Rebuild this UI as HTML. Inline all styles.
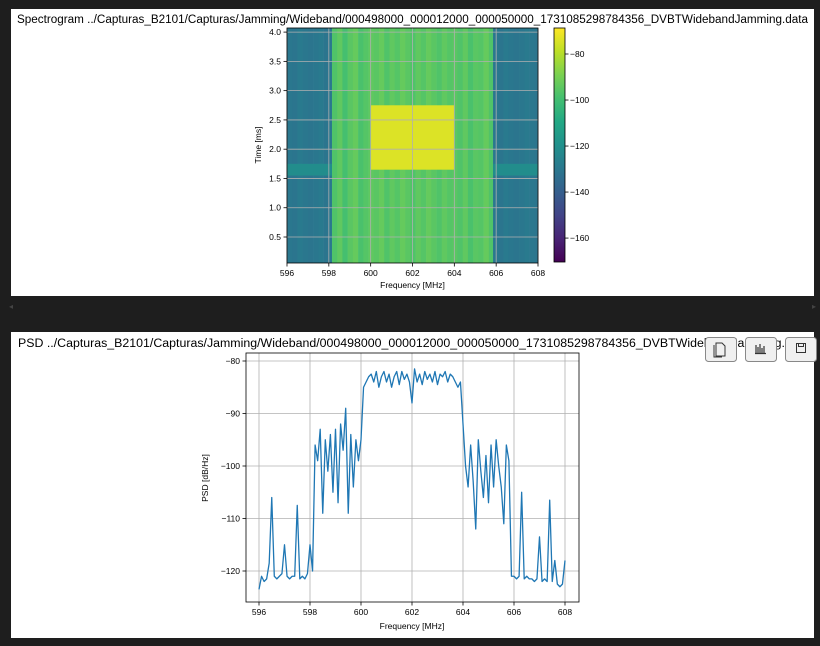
<!DOCTYPE html>
<html><head><meta charset="utf-8"><style>
html,body{margin:0;padding:0;background:#1e1e1e;width:820px;height:646px;overflow:hidden;font-family:"Liberation Sans","DejaVu Sans",sans-serif}
svg{position:absolute;left:0;top:0}
</style></head><body>
<svg id="root" width="820" height="646">
<rect x="11" y="9" width="803" height="287" fill="#fff"/>
<rect x="11" y="332" width="803" height="306" fill="#fff"/>
<text x="9" y="309" font-size="8" fill="#444">◂</text>
<text x="812" y="309" font-size="8" fill="#444">▸</text>
<text x="17" y="23" font-size="11.5" textLength="791" lengthAdjust="spacingAndGlyphs" fill="#000">Spectrogram ../Capturas_B2101/Capturas/Jamming/Wideband/000498000_000012000_000050000_1731085298784356_DVBTWidebandJamming.data</text>
<text x="18" y="347" font-size="11.5" textLength="791" lengthAdjust="spacingAndGlyphs" fill="#000">PSD ../Capturas_B2101/Capturas/Jamming/Wideband/000498000_000012000_000050000_1731085298784356_DVBTWidebandJamming.data</text>
<g id="spec"></g>
<g id="cbar"></g>
<g id="psd"></g>
<g>
<rect x="705.5" y="337.5" width="31" height="24" rx="3" fill="#f0f0f0" stroke="#888"/>
<path d="M716 343h6l3 3v10h-9z M714 345v12h8" fill="none" stroke="#333" stroke-width="1"/>
<rect x="745.5" y="337.5" width="31" height="24" rx="3" fill="#f0f0f0" stroke="#888"/>
<path d="M756 345v8M758 347v6M760 344v9M762 348v5M764 346v7M755 353.5h11" stroke="#333" stroke-width="1.2"/>
<rect x="785.5" y="337.5" width="31" height="24" rx="3" fill="#f0f0f0" stroke="#888"/>
<path d="M796.5 343.5h9v9h-9z M798.5 343.5v3h5v-3" fill="none" stroke="#333"/>
</g>
</svg>
<script>
// ---------- data ----------
const specColFreqStart = [596.0,596.25,596.5,596.75,597.0,597.25,597.5,597.75,598.0,598.15,598.4,598.65,598.9,599.15,599.4,599.65,599.9,600.15,600.4,600.65,600.9,601.15,601.4,601.65,601.9,602.15,602.4,602.65,602.9,603.15,603.4,603.65,603.9,604.15,604.4,604.65,604.9,605.15,605.4,605.65,605.85,606.1,606.35,606.6,606.85,607.1,607.35,607.6,607.85];
const specColLevel = [-130,-131,-129,-130,-131,-130,-129,-131,-130,-97,-94,-99,-95,-93,-98,-96,-94,-95,-93,-97,-94,-96,-93,-95,-97,-94,-96,-93,-95,-97,-94,-96,-95,-97,-94,-98,-95,-96,-93,-97,-130,-131,-129,-130,-131,-130,-129,-130,-131];
const specBlocks = [
  {f0:600.0,f1:604.0,t0:1.65,t1:2.75,db:-74},
  {f0:596.0,f1:598.15,t0:1.55,t1:1.75,db:-121},
  {f0:605.85,f1:608.0,t0:1.55,t1:1.75,db:-121}
];
const specXTicks = [596,598,600,602,604,606,608];
const specYTicks = [0.5,1.0,1.5,2.0,2.5,3.0,3.5,4.0];
const cbarTicks = [-80,-100,-120,-140,-160];

const psdValues = [-123.5,-121,-122,-121.5,-118.5,-106,-121,-121.5,-121,-120.5,-115,-121,-121.5,-121,-121,-107.5,-121.5,-121,-121.5,-120.5,-115,-120,-96,-99,-93,-109,-95,-101,-94,-105,-93,-107,-92,-97,-89,-109,-94,-104,-95,-99,-95,-85,-84,-83,-82.5,-84,-82,-85,-83,-82,-84,-82.5,-85,-83,-82,-84.5,-82,-83.5,-82.5,-84,-88,-81.5,-84,-82.5,-84.5,-82,-83.5,-82.5,-84,-82,-84.5,-82.5,-83,-82,-84,-82.5,-83,-84,-85,-84,-92,-100,-104,-96,-103,-112,-95,-101,-106,-98,-107,-96,-104,-95,-100,-104,-111,-96,-99,-121,-121,-121.5,-121,-105,-121.5,-121,-121.5,-121.5,-122,-121.5,-113.5,-122,-121.5,-122,-106.5,-122,-118,-122.5,-123,-122.5,-118];
const psdFreqStart = 596, psdFreqStep = 0.1;
const psdXTicks = [596,598,600,602,604,606,608];
const psdYTicks = [-80,-90,-100,-110,-120];

// ---------- helpers ----------
const NS='http://www.w3.org/2000/svg';
function mk(parent,tag,attrs){const e=document.createElementNS(NS,tag);for(const k in attrs)e.setAttribute(k,attrs[k]);parent.appendChild(e);return e;}
const vir=['#440154','#482475','#414487','#355f8d','#2a788e','#21918c','#22a884','#44bf70','#7ad151','#bddf26','#fde725'];
function hex(c){return [1,3,5].map(i=>parseInt(c.substr(i,2),16));}
function viridis(t){t=Math.max(0,Math.min(1,t));const p=t*10,i=Math.min(9,Math.floor(p)),f=p-i;const a=hex(vir[i]),b=hex(vir[i+1]);return 'rgb('+a.map((v,k)=>Math.round(v+(b[k]-v)*f)).join(',')+')';}
const VMIN=-170.4,VMAX=-68.7;
const cmap=db=>viridis((db-VMIN)/(VMAX-VMIN));

// ---------- spectrogram ----------
const S={x0:287,y0:28,w:251,h:235,fmin:596,fmax:608,tmin:0.056,tmax:4.07};
const sx=f=>S.x0+(f-S.fmin)/(S.fmax-S.fmin)*S.w;
const sy=t=>S.y0+S.h-(t-S.tmin)/(S.tmax-S.tmin)*S.h;
const spec=document.getElementById('spec');
specColLevel.forEach((db,i)=>{
  const f0=specColFreqStart[i], f1=i+1<specColFreqStart.length?specColFreqStart[i+1]:S.fmax;
  const r=mk(spec,'rect',{x:sx(f0),y:S.y0,width:Math.max(0,sx(f1)-sx(f0))+0.3,height:S.h,fill:cmap(db)});
  
  
});
specBlocks.forEach(b=>{
  const r=mk(spec,'rect',{x:sx(b.f0),y:sy(b.t1),width:sx(b.f1)-sx(b.f0),height:sy(b.t0)-sy(b.t1),fill:cmap(b.db)});
  
  
});
specXTicks.forEach(v=>{
  mk(spec,'line',{x1:sx(v),x2:sx(v),y1:S.y0,y2:S.y0+S.h,stroke:'#b0b0b0','stroke-width':0.8});
  mk(spec,'line',{x1:sx(v),x2:sx(v),y1:S.y0+S.h,y2:S.y0+S.h+3.5,stroke:'#000','stroke-width':0.8});
  const t=mk(spec,'text',{x:sx(v),y:S.y0+S.h+13,'font-size':8.5,'text-anchor':'middle'});t.textContent=v;
  
  
});
specYTicks.forEach(v=>{
  mk(spec,'line',{x1:S.x0,x2:S.x0+S.w,y1:sy(v),y2:sy(v),stroke:'#b0b0b0','stroke-width':0.8});
  mk(spec,'line',{x1:S.x0-3.5,x2:S.x0,y1:sy(v),y2:sy(v),stroke:'#000','stroke-width':0.8});
  const t=mk(spec,'text',{x:S.x0-6,y:sy(v)+3,'font-size':8.5,'text-anchor':'end'});t.textContent=v.toFixed(1);
  
  
});
mk(spec,'rect',{x:S.x0,y:S.y0,width:S.w,height:S.h,fill:'none',stroke:'#000','stroke-width':0.8});
let tt=mk(spec,'text',{x:S.x0+S.w/2,y:288,'font-size':8.5,'text-anchor':'middle'});tt.textContent='Frequency [MHz]';

tt=mk(spec,'text',{x:0,y:0,'font-size':8.5,'text-anchor':'middle',transform:'translate(261,145) rotate(-90)'});tt.textContent='Time [ms]';


// colorbar
const cb=document.getElementById('cbar');
const C={x:554,y0:28,w:11,h:234};
const cy=db=>C.y0+C.h-(db-VMIN)/(VMAX-VMIN)*C.h;
const g=mk(cb,'linearGradient',{id:'vg',x1:0,y1:1,x2:0,y2:0});
vir.forEach((c,i)=>mk(g,'stop',{offset:i/10,'stop-color':c}));
mk(cb,'rect',{x:C.x,y:C.y0,width:C.w,height:C.h,fill:'url(#vg)',stroke:'#000','stroke-width':0.8});
cbarTicks.forEach(v=>{
  mk(cb,'line',{x1:C.x+C.w,x2:C.x+C.w+3.5,y1:cy(v),y2:cy(v),stroke:'#000','stroke-width':0.8});
  const t=mk(cb,'text',{x:C.x+C.w+5,y:cy(v)+3,'font-size':8.5});t.textContent='\u2212'+Math.abs(v);
  
  
});

// ---------- PSD ----------
const P={x0:246,y0:353,w:333,h:249};
const px=f=>259+(f-596)/12*306;
const py=v=>361+(-80-v)/40*210;
const psd=document.getElementById('psd');
psdXTicks.forEach(v=>{
  mk(psd,'line',{x1:px(v),x2:px(v),y1:P.y0,y2:P.y0+P.h,stroke:'#b0b0b0','stroke-width':0.8});
  mk(psd,'line',{x1:px(v),x2:px(v),y1:P.y0+P.h,y2:P.y0+P.h+3.5,stroke:'#000','stroke-width':0.8});
  const t=mk(psd,'text',{x:px(v),y:P.y0+P.h+13,'font-size':8.5,'text-anchor':'middle'});t.textContent=v;
  
  
});
psdYTicks.forEach(v=>{
  mk(psd,'line',{x1:P.x0,x2:P.x0+P.w,y1:py(v),y2:py(v),stroke:'#b0b0b0','stroke-width':0.8});
  mk(psd,'line',{x1:P.x0-3.5,x2:P.x0,y1:py(v),y2:py(v),stroke:'#000','stroke-width':0.8});
  const t=mk(psd,'text',{x:P.x0-6,y:py(v)+3,'font-size':8.5,'text-anchor':'end'});t.textContent='\u2212'+Math.abs(v);
  
  
});
const pts=psdValues.map((v,i)=>px(psdFreqStart+i*psdFreqStep).toFixed(2)+','+py(v).toFixed(2)).join(' ');
const line=mk(psd,'polyline',{points:pts,fill:'none',stroke:'#1f77b4','stroke-width':1.3,'stroke-linejoin':'round'});


mk(psd,'rect',{x:P.x0,y:P.y0,width:P.w,height:P.h,fill:'none',stroke:'#000','stroke-width':0.8});
tt=mk(psd,'text',{x:px(602),y:629,'font-size':8.5,'text-anchor':'middle'});tt.textContent='Frequency [MHz]';

tt=mk(psd,'text',{x:0,y:0,'font-size':8.5,'text-anchor':'middle',transform:'translate(208,478) rotate(-90)'});tt.textContent='PSD [dB/Hz]';

</script>
</body></html>
